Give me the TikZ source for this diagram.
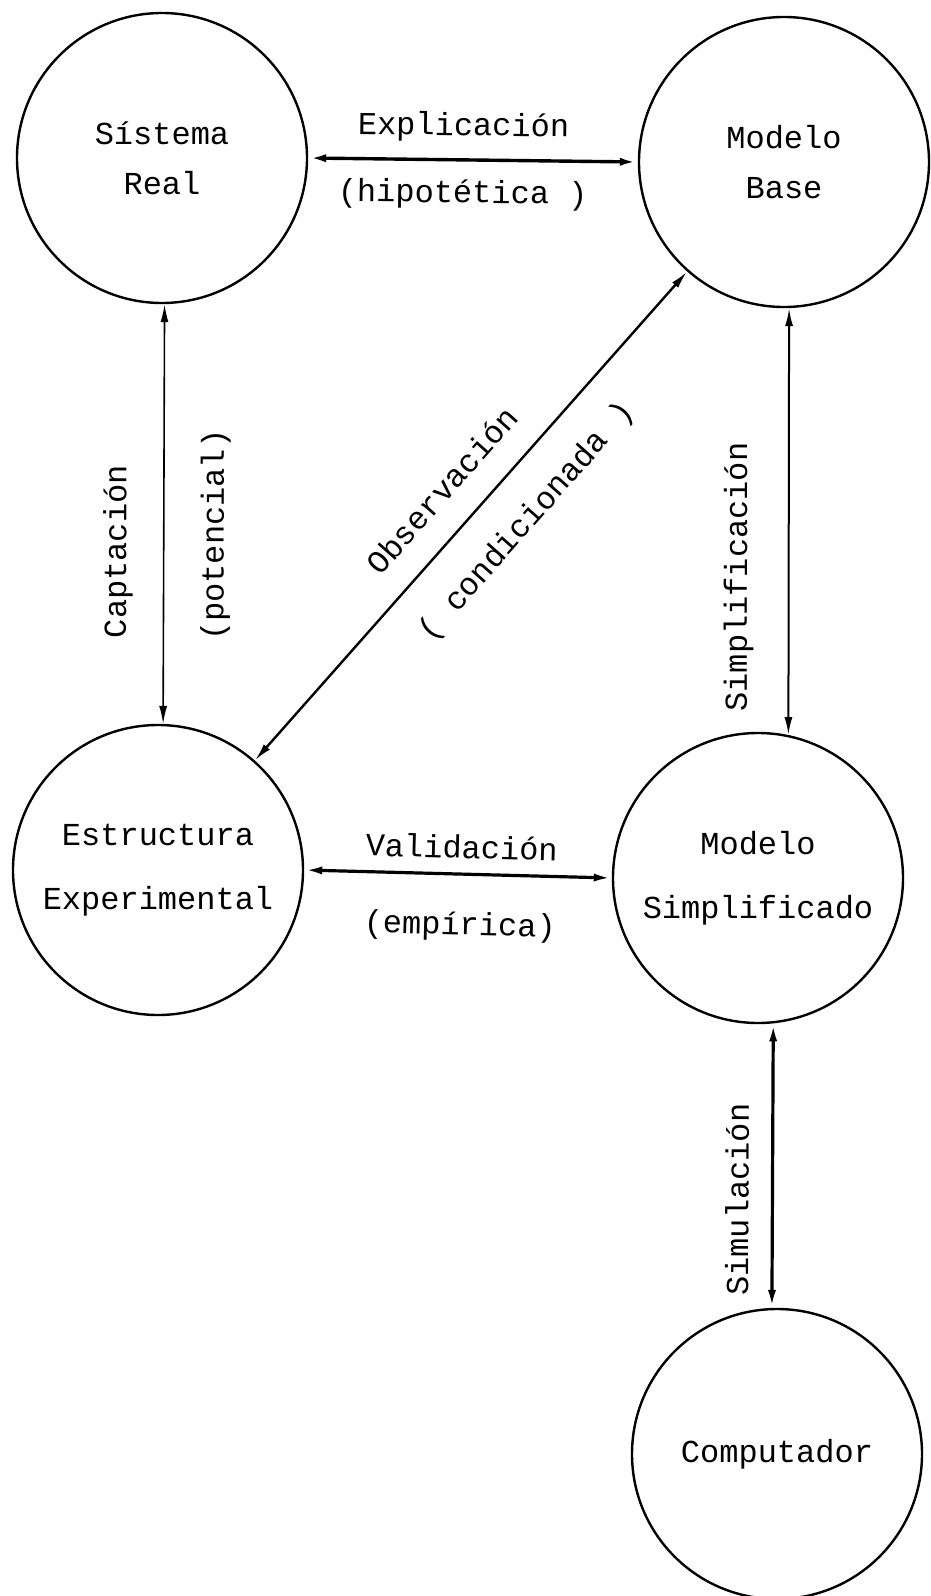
\documentclass[tikz,border=0pt]{standalone}
\usepackage{fontspec}
\setmainfont{Liberation Mono}
\usetikzlibrary{arrows.meta}

\begin{document}
\begin{tikzpicture}[x=0.5pt, y=-0.5pt,
        font=\fontsize{16}{25}\selectfont,
        >={Latex[length=9pt,width=4pt]},
        estado/.style={circle, draw, line width=1.2pt, minimum size=145pt, inner sep=0pt, align=center},
        rotulo/.style={inner sep=0pt, sloped}]
            \useasboundingbox (0,0) rectangle (931,1596);
            \node [estado] (real) at (162,158) {Sístema\\Real};
            \node [estado] (base) at (784,162) {Modelo\\Base};
            \node [estado] (exper) at (158,870) {Estructura\\[7pt]Experimental};
            \node [estado] (simpl) at (758,878) {Modelo\\[7pt]Simplificado};
            \node [estado] (comp) at (777,1454) {Computador};

            \draw [<->, line width=1.7pt] (real.east) -- node [rotulo, pos=0.47, above=8pt] {Explicación}
                node [rotulo, pos=0.47, below=9pt] {(hipotética )} (base.west);
            \draw [<->, line width=0.8pt] (exper.88) -- node [rotulo, pos=0.41, above=15pt] {Captación}
                node [rotulo, pos=0.45, below=18pt] {(potencial)} (real.271);
            \draw [<->, line width=1.2pt] (exper) -- node [rotulo, pos=0.5, above=13pt] {Observación}
                node [rotulo, pos=0.55, below=15pt] {( condicionada )} (base);
            \draw [<->, line width=1pt] (simpl.78) -- node [rotulo, pos=0.37, above=17pt] {Simplificación} (base.272);
            \draw [<->, line width=1.6pt] (exper.east) -- node [rotulo, pos=0.51, above=7pt] {Validación}
                node [rotulo, pos=0.51, below=18pt] {(empírica)} (simpl.west);
            \draw [<->, line width=1.6pt] (comp.92) -- node [rotulo, pos=0.38, above=11pt] {Simulación} (simpl.276);
        \end{tikzpicture}
\end{document}
